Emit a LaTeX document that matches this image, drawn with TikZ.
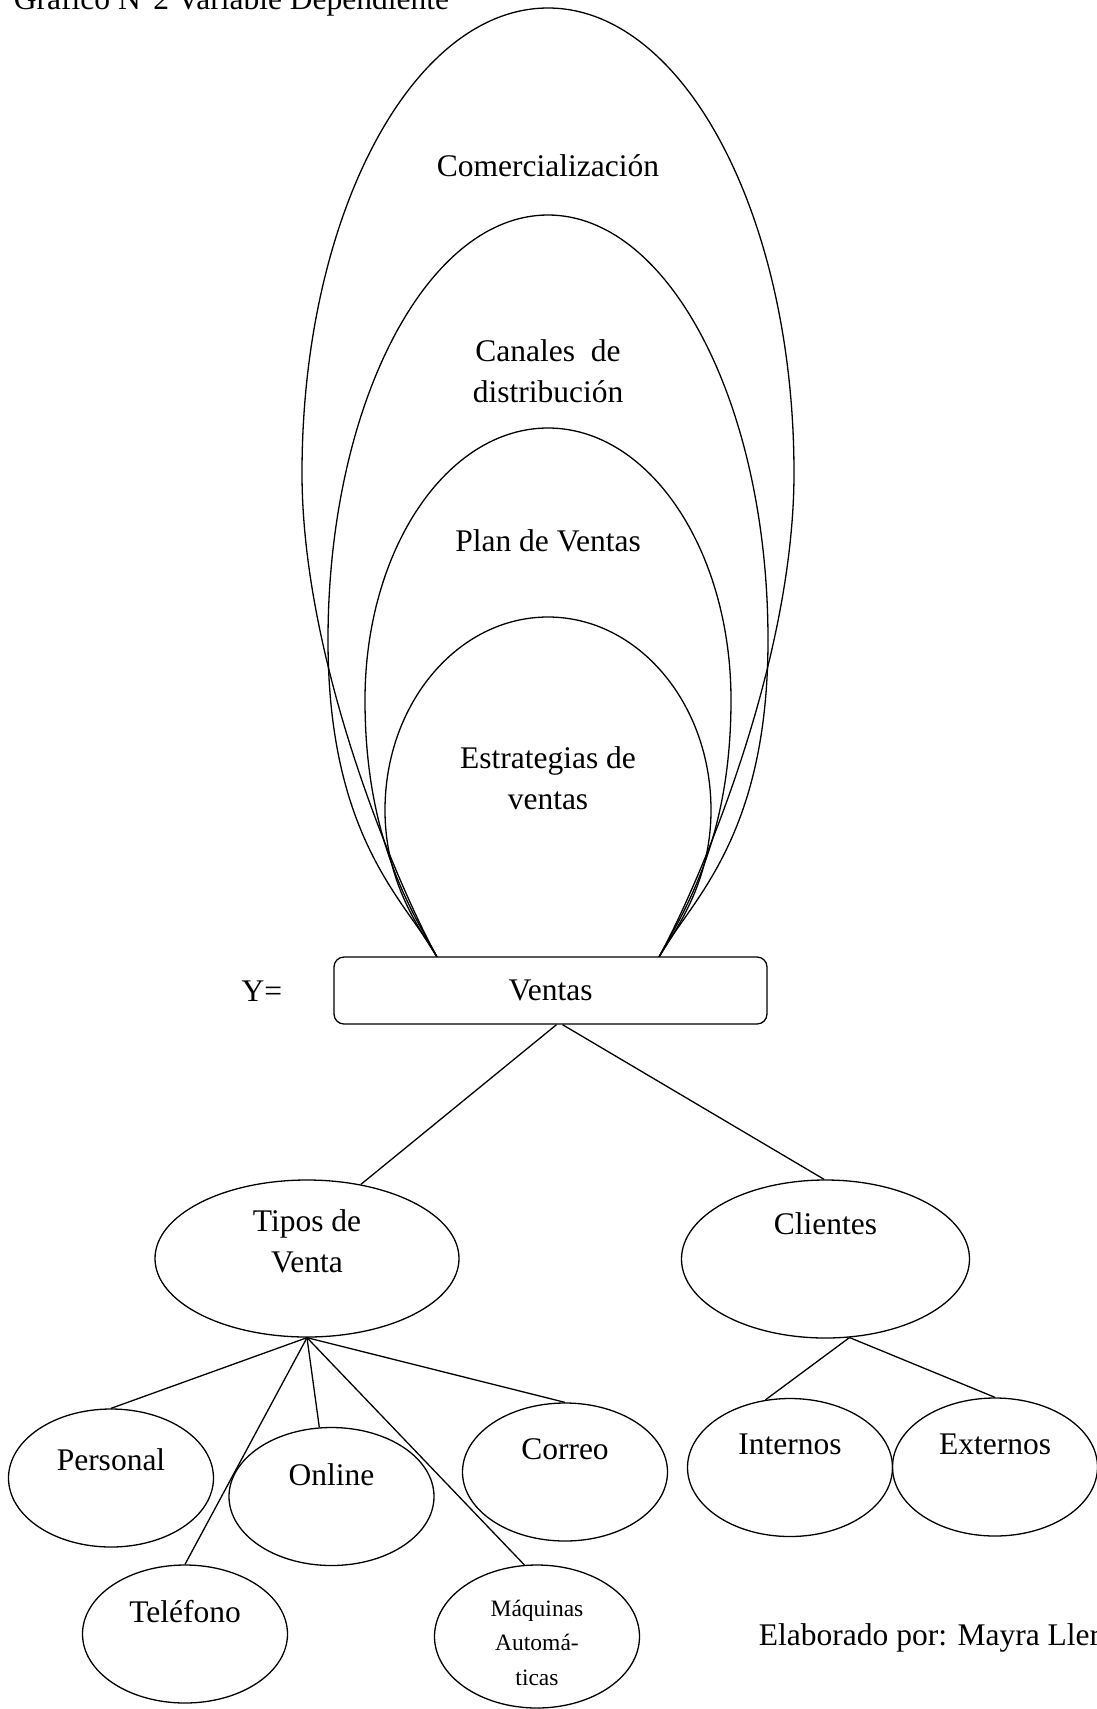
\documentclass[tikz,border=0pt]{standalone}
\usepackage{fontspec}
\setmainfont{Liberation Serif}
\usetikzlibrary{shapes.geometric}

\begin{document}
\begin{tikzpicture}[
  x=1pt, y=1pt, line width=1.3pt,
  font=\fontsize{31.5}{41.5}\selectfont,
  oval/.style={draw, ellipse, inner sep=0pt, minimum width=205pt, minimum height=138pt},
  caja/.style={draw, fill=white, rounded corners=10pt, minimum width=433pt, minimum height=67pt},
  txt/.style={align=center, inner sep=0pt}
]
\useasboundingbox (0,0) rectangle (1097,-1709);
\clip (0,0) rectangle (1097,-1709);

\node[anchor=base west] (titulo) at (10,-9.5) {Gráfico N°2 Variable Dependiente};

% capas de la variable
\draw (437,-957) .. controls (395,-880) and (302,-660) .. (302,-473)
  arc[start angle=180, end angle=0, x radius=246, y radius=465]
  .. controls (794,-660) and (701,-880) .. (659,-957);
\draw (437,-957) .. controls (407,-902) and (328,-840) .. (328,-640)
  arc[start angle=180, end angle=0, x radius=220, y radius=425]
  .. controls (768,-840) and (689,-902) .. (659,-957);
\draw (437,-957) .. controls (412,-911) and (365,-840) .. (365,-700)
  arc[start angle=180, end angle=0, x radius=183, y radius=272]
  .. controls (731,-840) and (684,-911) .. (659,-957);
\draw (437,-957) .. controls (417,-925) and (385,-880) .. (385,-810)
  arc[start angle=180, end angle=0, x radius=163, y radius=193]
  .. controls (711,-880) and (679,-925) .. (659,-957);

\node[txt] (comer) at (548,-166) {Comercialización};
\node[txt] (canales) at (548,-371) {Canales~ de\\distribución};
\node[txt] (plan) at (548,-541) {Plan de Ventas};
\node[txt] (estrat) at (548,-778) {Estrategias de\\ventas};

% variable dependiente
\node[caja] (ventas) at (550.5,-990.5) {Ventas};
\node[anchor=base] (ye) at (262,-1001) {Y=};

% dimensiones
\node[oval, minimum width=304pt, minimum height=157pt,
  label={[yshift=17pt, align=center]center:Tipos de\\Venta}] (tipos) at (307,-1258.5) {};
\node[oval, minimum width=288pt, minimum height=158pt,
  label={[yshift=35pt]center:Clientes}] (clientes) at (825.5,-1259) {};

% indicadores
\node[oval, label={[yshift=18pt]center:Personal}] (personal) at (111,-1478) {};
\node[oval, label={[yshift=22pt]center:Online}] (online) at (331.5,-1496.5) {};
\node[oval, label={[yshift=23pt]center:Correo}] (correo) at (565,-1472) {};
\node[oval, label={[yshift=22pt]center:Teléfono}] (telefono) at (185,-1634) {};
\node[oval, minimum height=143pt,
  label={[yshift=-6pt, align=center, font=\fontsize{23.5}{34.5}\selectfont]center:Máquinas\\Automá-\\ticas}] (maquinas) at (537,-1636.5) {};
\node[oval, label={[yshift=23pt]center:Internos}] (internos) at (790,-1467.5) {};
\node[oval, label={[yshift=23pt]center:Externos}] (externos) at (995,-1467) {};

\draw ([xshift=6pt]ventas.south) -- (tipos.54);
\draw ([xshift=12pt]ventas.south) -- (clientes.91);
\foreach \h in {personal.north, online.100, correo.north, telefono.north, maquinas.100}
  \draw (tipos.south) -- (\h);
\draw (clientes.-73) -- (internos.110);
\draw (clientes.-73) -- (externos.north);

\node[anchor=base west] (autor) at (755,-1645) {Elaborado por: Mayra Ller};
\end{tikzpicture}
\end{document}
